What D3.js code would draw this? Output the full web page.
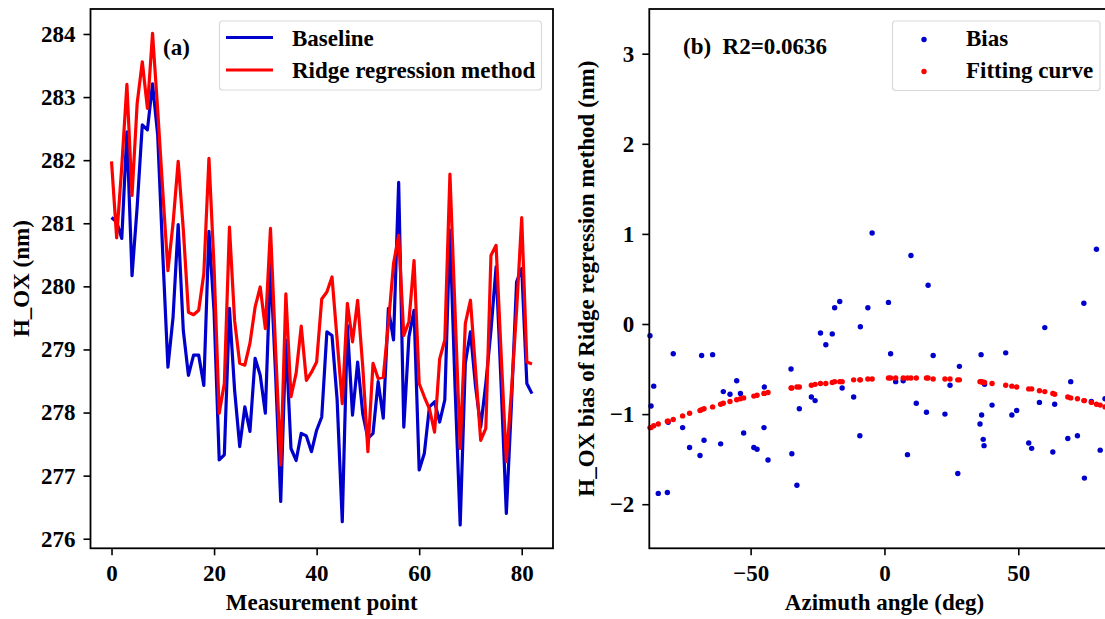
<!DOCTYPE html>
<html>
<head>
<meta charset="utf-8">
<script src="https://d3js.org/d3.v7.min.js"></script>
<style>
  body { margin: 0; background: #fff; }
  svg { display: block; overflow: hidden; }
  text { font-family: "Liberation Serif", "Times New Roman", serif; font-weight: bold; }
</style>
</head>
<body>
<script>
// Panel (a): measurement point index is the array position
var baseline = [281.09, 281.02, 280.76, 282.45, 280.17, 281.26, 282.56, 282.48, 283.21, 282.4,
  280.5, 278.72, 279.51, 280.98, 279.30, 278.59, 278.91, 278.91, 278.43, 280.87,
  279.6, 277.25, 277.33, 279.65, 278.36, 277.46, 278.09, 277.70, 278.86, 278.59,
  277.99, 280.35, 278.6, 276.59, 279.15, 277.43, 277.24, 277.67, 277.63, 277.38,
  277.72, 277.93, 279.28, 279.22, 278.2, 276.27, 279.38, 277.96, 278.80, 277.98,
  277.59, 277.67, 278.49, 277.91, 279.65, 279.15, 281.65, 277.77, 279.20, 279.62,
  277.09, 277.35, 278.09, 278.17, 277.85, 278.20, 280.89, 278.4, 276.22, 278.78,
  279.28, 278.41, 277.77, 278.46, 279.3, 280.31, 278.4, 276.40, 278.14, 280.07,
  280.28, 278.46, 278.30];

var ridge = [281.98, 280.77, 281.9, 283.2, 281.44, 282.9, 283.56, 282.82, 284.01, 282.8,
  281.5, 280.25, 281.0, 281.98, 280.9, 279.59, 279.55, 279.62, 280.2, 282.03,
  280.3, 277.99, 278.46, 280.94, 279.46, 278.78, 278.75, 279.1, 279.67, 279.99,
  279.33, 280.92, 279.0, 277.17, 279.88, 278.25, 278.62, 279.37, 278.51, 278.64,
  278.80, 279.80, 279.91, 280.15, 279.15, 278.14, 279.73, 279.12, 279.78, 278.72,
  277.38, 278.78, 278.54, 278.56, 279.41, 280.36, 280.81, 279.22, 279.44, 280.41,
  278.46, 278.25, 278.06, 277.69, 278.85, 279.15, 281.78, 279.6, 277.43, 279.41,
  279.78, 278.67, 277.56, 277.75, 280.49, 280.65, 278.9, 277.22, 278.35, 279.62,
  281.09, 278.80, 278.77];

var xTicksA = [0, 20, 40, 60, 80];
var yTicksA = [276, 277, 278, 279, 280, 281, 282, 283, 284];

// Panel (b): azimuth, bias and the fitted value at that azimuth
var azimuth = [-87.6, -87.2, -86.2, -84.5, -81.1, -80.8, -78.9, -75.4, -72.8, -68.9,
  -68.3, -67.4, -64.2, -61.2, -60.2, -57.7, -55.2, -53.8, -52.6, -48.8,
  -47.6, -45.0, -44.9, -43.5, -34.9, -34.6, -32.7, -31.8, -27.3, -25.9,
  -23.9, -21.9, -19.5, -18.6, -16.7, -15.8, -11.5, -9.2, -9.0, -6.2,
  -4.6, 1.5, 2.3, 4.2, 7.0, 8.6, 9.9, 11.9, 15.7, 16.3,
  18.2, 22.6, 24.5, 27.4, 28.0, 35.7, 36.1, 36.3, 36.9, 37.2,
  37.4, 40.2, 45.3, 47.6, 49.4, 53.9, 55.0, 57.9, 59.9, 62.9,
  63.6, 68.5, 69.6, 72.1, 74.5, 74.7, 77.3, 79.2, 80.6, 82.4];

var bias = [-0.13, -0.91, -0.69, -1.88, -1.87, -1.09, -0.33, -1.15, -1.37, -1.46,
  -0.35, -1.29, -0.34, -1.33, -0.75, -0.78, -0.63, -0.77, -1.21, -1.37,
  -1.39, -1.15, -0.70, -1.51, -0.50, -1.44, -1.79, -0.94, -0.81, -0.85,
  -0.10, -0.23, -0.11, 0.18, 0.25, -0.71, -0.81, -1.24, -0.03, 0.18,
  1.01, 0.24, -0.33, -0.64, -0.63, -1.45, 0.76, -0.88, -0.98, 0.43,
  -0.35, -1.00, -0.68, -1.66, -0.47, -1.11, -0.34, -1.01, -1.28, -1.35,
  -0.67, -0.90, -0.32, -1.01, -0.96, -1.32, -1.38, -0.87, -0.04, -1.42,
  -0.89, -1.27, -0.64, -1.24, 0.23, -1.71, -0.86, 0.83, -1.40, -0.83];

var fitted = [-1.15, -1.15, -1.13, -1.11, -1.08, -1.08, -1.06, -1.02, -0.99, -0.96,
  -0.95, -0.94, -0.92, -0.89, -0.88, -0.86, -0.84, -0.83, -0.82, -0.80,
  -0.79, -0.77, -0.77, -0.76, -0.71, -0.71, -0.70, -0.70, -0.68, -0.67,
  -0.66, -0.66, -0.65, -0.64, -0.64, -0.64, -0.62, -0.62, -0.62, -0.61,
  -0.61, -0.60, -0.60, -0.60, -0.60, -0.60, -0.60, -0.60, -0.60, -0.60,
  -0.61, -0.61, -0.61, -0.62, -0.62, -0.64, -0.64, -0.64, -0.65, -0.65,
  -0.65, -0.66, -0.68, -0.69, -0.70, -0.72, -0.72, -0.74, -0.75, -0.77,
  -0.78, -0.81, -0.82, -0.83, -0.85, -0.85, -0.87, -0.89, -0.90, -0.92];

var xTicksB = [-50, 0, 50];
var yTicksB = [-2, -1, 0, 1, 2, 3];

var width = 1105, height = 619;
var blue = "#0000cd", red = "#ff0000";
var fontSize = "23px";

var svg = d3.select("body").append("svg")
    .attr("width", width)
    .attr("height", height);

var a = {left: 90.5, right: 553, top: 9, bottom: 548.3};
var b = {left: 649.3, right: 1120, top: 9, bottom: 548.3};

var xA = d3.scaleLinear().domain([-4.1, 86.1]).range([a.left, a.right]);
var yA = d3.scaleLinear().domain([275.853, 284.396]).range([548, 9]);
var xB = d3.scaleLinear().domain([-87.85, 88]).range([b.left, b.right]);
var yB = d3.scaleLinear().domain([-2.486, 3.496]).range([548, 9]);

function styleAxis(g) {
  g.select(".domain").remove();
  g.selectAll(".tick line").attr("stroke", "#000").attr("stroke-width", 1.6);
  g.selectAll(".tick text").attr("fill", "#000").style("font-size", fontSize);
}

// ---- panel (a)
svg.append("g")
    .attr("transform", "translate(0," + a.bottom + ")")
    .call(d3.axisBottom(xA).tickValues(xTicksA).tickSize(7).tickPadding(9))
    .call(styleAxis);

svg.append("g")
    .attr("transform", "translate(" + a.left + ",0)")
    .call(d3.axisLeft(yA).tickValues(yTicksA).tickSize(7).tickPadding(8))
    .call(styleAxis);

svg.append("clipPath").attr("id", "clipA")
  .append("rect")
    .attr("x", a.left).attr("y", a.top)
    .attr("width", a.right - a.left).attr("height", a.bottom - a.top);

var line = d3.line()
    .x(function(d, i) { return xA(i); })
    .y(function(d) { return yA(d); });

var plotA = svg.append("g").attr("clip-path", "url(#clipA)");

plotA.append("path")
    .datum(baseline)
    .attr("d", line)
    .attr("fill", "none")
    .attr("stroke", blue)
    .attr("stroke-width", 3.2)
    .attr("stroke-linejoin", "round");

plotA.append("path")
    .datum(ridge)
    .attr("d", line)
    .attr("fill", "none")
    .attr("stroke", red)
    .attr("stroke-width", 3.2)
    .attr("stroke-linejoin", "round");

svg.append("rect")
    .attr("x", a.left).attr("y", a.top)
    .attr("width", a.right - a.left).attr("height", a.bottom - a.top)
    .attr("fill", "none").attr("stroke", "#000").attr("stroke-width", 1.8);

svg.append("text")
    .attr("x", 163).attr("y", 55)
    .style("font-size", fontSize)
    .text("(a)");

// legend (a)
var legA = svg.append("g");
legA.append("rect")
    .attr("x", 219.5).attr("y", 21).attr("width", 322).attr("height", 69)
    .attr("rx", 3).attr("fill", "#fff").attr("stroke", "#d9d9d9").attr("stroke-width", 1.2);
[["Baseline", blue, 37.5], ["Ridge regression method", red, 70]].forEach(function(e) {
  legA.append("line")
      .attr("x1", 226).attr("x2", 273).attr("y1", e[2]).attr("y2", e[2])
      .attr("stroke", e[1]).attr("stroke-width", 3.2);
  legA.append("text")
      .attr("x", 292).attr("y", e[2] + 8)
      .style("font-size", fontSize)
      .text(e[0]);
});

svg.append("text")
    .attr("x", (a.left + a.right) / 2).attr("y", 610)
    .attr("text-anchor", "middle")
    .style("font-size", fontSize)
    .text("Measurement point");

svg.append("text")
    .attr("transform", "translate(29," + (a.top + a.bottom) / 2 + ") rotate(-90)")
    .attr("text-anchor", "middle")
    .style("font-size", fontSize)
    .text("H_OX (nm)");

// ---- panel (b)
svg.append("g")
    .attr("transform", "translate(0," + b.bottom + ")")
    .call(d3.axisBottom(xB).tickValues(xTicksB).tickSize(7).tickPadding(9).tickFormat(d3.format("d")))
    .call(styleAxis);

svg.append("g")
    .attr("transform", "translate(" + b.left + ",0)")
    .call(d3.axisLeft(yB).tickValues(yTicksB).tickSize(7).tickPadding(8).tickFormat(d3.format("d")))
    .call(styleAxis);

var points = azimuth.map(function(d, i) { return {az: d, bias: bias[i], fit: fitted[i]}; });

svg.append("g").selectAll("circle.bias")
    .data(points).enter().append("circle")
    .attr("class", "bias")
    .attr("cx", function(d) { return xB(d.az); })
    .attr("cy", function(d) { return yB(d.bias); })
    .attr("r", 2.7)
    .attr("fill", blue);

svg.append("g").selectAll("circle.fit")
    .data(points).enter().append("circle")
    .attr("class", "fit")
    .attr("cx", function(d) { return xB(d.az); })
    .attr("cy", function(d) { return yB(d.fit); })
    .attr("r", 2.7)
    .attr("fill", red);

svg.append("rect")
    .attr("x", b.left).attr("y", b.top)
    .attr("width", b.right - b.left).attr("height", b.bottom - b.top)
    .attr("fill", "none").attr("stroke", "#000").attr("stroke-width", 1.8);

svg.append("text")
    .attr("x", 683).attr("y", 54)
    .attr("xml:space", "preserve")
    .style("font-size", fontSize)
    .text("(b)  R2=0.0636");

// legend (b)
var legB = svg.append("g");
legB.append("rect")
    .attr("x", 892.5).attr("y", 21).attr("width", 207.5).attr("height", 69.5)
    .attr("rx", 3).attr("fill", "#fff").attr("stroke", "#d9d9d9").attr("stroke-width", 1.2);
[["Bias", blue, 39.5], ["Fitting curve", red, 71.5]].forEach(function(e) {
  legB.append("circle")
      .attr("cx", 924).attr("cy", e[2]).attr("r", 2.7)
      .attr("fill", e[1]);
  legB.append("text")
      .attr("x", 966).attr("y", e[2] + 6)
      .style("font-size", fontSize)
      .text(e[0]);
});

svg.append("text")
    .attr("x", 884.5).attr("y", 610)
    .attr("text-anchor", "middle")
    .style("font-size", fontSize)
    .text("Azimuth angle (deg)");

svg.append("text")
    .attr("transform", "translate(594," + (b.top + b.bottom) / 2 + ") rotate(-90)")
    .attr("text-anchor", "middle")
    .style("font-size", fontSize)
    .text("H_OX bias of Ridge regression method (nm)");
</script>
</body>
</html>
